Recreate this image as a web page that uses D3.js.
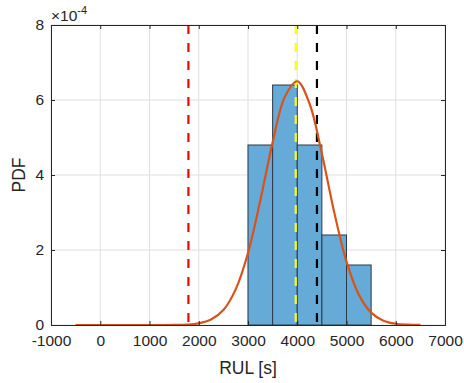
<!DOCTYPE html>
<html><head><meta charset="utf-8">
<script src="https://cdn.jsdelivr.net/npm/d3@7"></script>
<style>body{margin:0;background:#fff}svg{display:block}text{font-family:"Liberation Sans",Arial,sans-serif}</style>
</head><body>
<script>
// Histogram bins (RUL [s]) and densities (units of 1e-4)
const binEdges = [3000, 3500, 4000, 4500, 5000, 5500];
const binDensity = [4.8, 6.4, 4.8, 2.4, 1.6];
// Fitted PDF curve points (units of 1e-4)
const curveX = [-500,-250,0,250,500,750,1000,1250,1500,1750,2000,2250,2500,2750,3000,3250,3500,3750,4000,4250,4500,4750,5000,5250,5500,5750,6000,6250,6500];
const curveY = [0,0,0,0,0,0,0,0,0.0025,0.011,0.044,0.144,0.40,0.95,1.92,3.32,4.87,6.09,6.50,5.90,4.57,3.01,1.69,0.81,0.33,0.115,0.034,0.009,0.002];
// Vertical reference lines
const vLines = [{x:1790,color:"#ff0000"},{x:3970,color:"#ffff00"},{x:4400,color:"#000000"}];
const xTicks = [-1000,0,1000,2000,3000,4000,5000,6000,7000];
const yTicks = [0,2,4,6,8];

const W=464,H=383, m={l:51,t:25,r:19,b:58};
const svg=d3.select("body").append("svg").attr("width",W).attr("height",H);
const x=d3.scaleLinear().domain([-1000,7000]).range([m.l,W-m.r]);
const y=d3.scaleLinear().domain([0,8]).range([H-m.b,m.t]);
const axC="#262626";

// grid
const g=svg.append("g");
g.selectAll(".gx").data(xTicks).join("line").attr("x1",d=>x(d)).attr("x2",d=>x(d)).attr("y1",y(0)).attr("y2",y(8)).attr("stroke","#dfdfdf").attr("stroke-width",1);
g.selectAll(".gy").data(yTicks).join("line").attr("y1",d=>y(d)).attr("y2",d=>y(d)).attr("x1",x(-1000)).attr("x2",x(7000)).attr("stroke","#dfdfdf").attr("stroke-width",1);

// bars
const bins=binDensity.map((v,i)=>({x0:binEdges[i],x1:binEdges[i+1],v}));
svg.selectAll(".bar").data(bins).join("rect")
 .attr("x",d=>x(d.x0)).attr("width",d=>x(d.x1)-x(d.x0))
 .attr("y",d=>y(d.v)).attr("height",d=>y(0)-y(d.v))
 .attr("fill","#66aad7").attr("stroke","#2a3a48").attr("stroke-width",1);

// vertical dashed lines
svg.selectAll(".vl").data(vLines).join("line")
 .attr("x1",d=>x(d.x)).attr("x2",d=>x(d.x)).attr("y1",y(8)).attr("y2",y(0))
 .attr("stroke",d=>d.color).attr("stroke-width",2.2).attr("stroke-dasharray","9,9");

// curve
const pts=curveX.map((v,i)=>[v,curveY[i]]);
svg.append("path").datum(pts)
 .attr("d",d3.line().x(d=>x(d[0])).y(d=>y(d[1])).curve(d3.curveCatmullRom))
 .attr("fill","none").attr("stroke","#d95319").attr("stroke-width",2.2);

// axes
const xa=svg.append("g").attr("transform",`translate(0,${y(0)})`)
 .call(d3.axisBottom(x).tickValues(xTicks).tickSize(-4).tickPadding(10).tickFormat(d3.format("d")));
const xt=svg.append("g").attr("transform",`translate(0,${y(8)})`)
 .call(d3.axisTop(x).tickValues(xTicks).tickSize(-4).tickFormat(""));
const ya=svg.append("g").attr("transform",`translate(${x(-1000)},0)`)
 .call(d3.axisLeft(y).tickValues(yTicks).tickSize(-4).tickPadding(7));
const yr=svg.append("g").attr("transform",`translate(${x(7000)},0)`)
 .call(d3.axisRight(y).tickValues(yTicks).tickSize(-4).tickFormat(""));
[xa,xt,ya,yr].forEach(a=>{a.select(".domain").attr("stroke",axC).attr("stroke-width",1);
 a.selectAll(".tick line").attr("stroke",axC);
 a.selectAll("text").attr("fill",axC).style("font-size","15.5px").style("font-family","'Liberation Sans',Arial,sans-serif");});
xa.selectAll("text").text(d=>d<0?"-"+Math.abs(d):d);

// labels
svg.append("text").attr("x",(x(-1000)+x(7000))/2).attr("y",374).attr("text-anchor","middle")
 .attr("fill",axC).style("font-size","17.5px").text("RUL [s]");
svg.append("text").attr("transform",`translate(25,${(y(0)+y(8))/2}) rotate(-90)`).attr("text-anchor","middle")
 .attr("fill",axC).style("font-size","17.5px").text("PDF");
const ex=svg.append("text").attr("x",51).attr("y",21).attr("fill",axC).style("font-size","15.5px");
ex.append("tspan").text("×10");
ex.append("tspan").attr("dy",-7).style("font-size","11px").text("-4");
</script>
</body></html>
